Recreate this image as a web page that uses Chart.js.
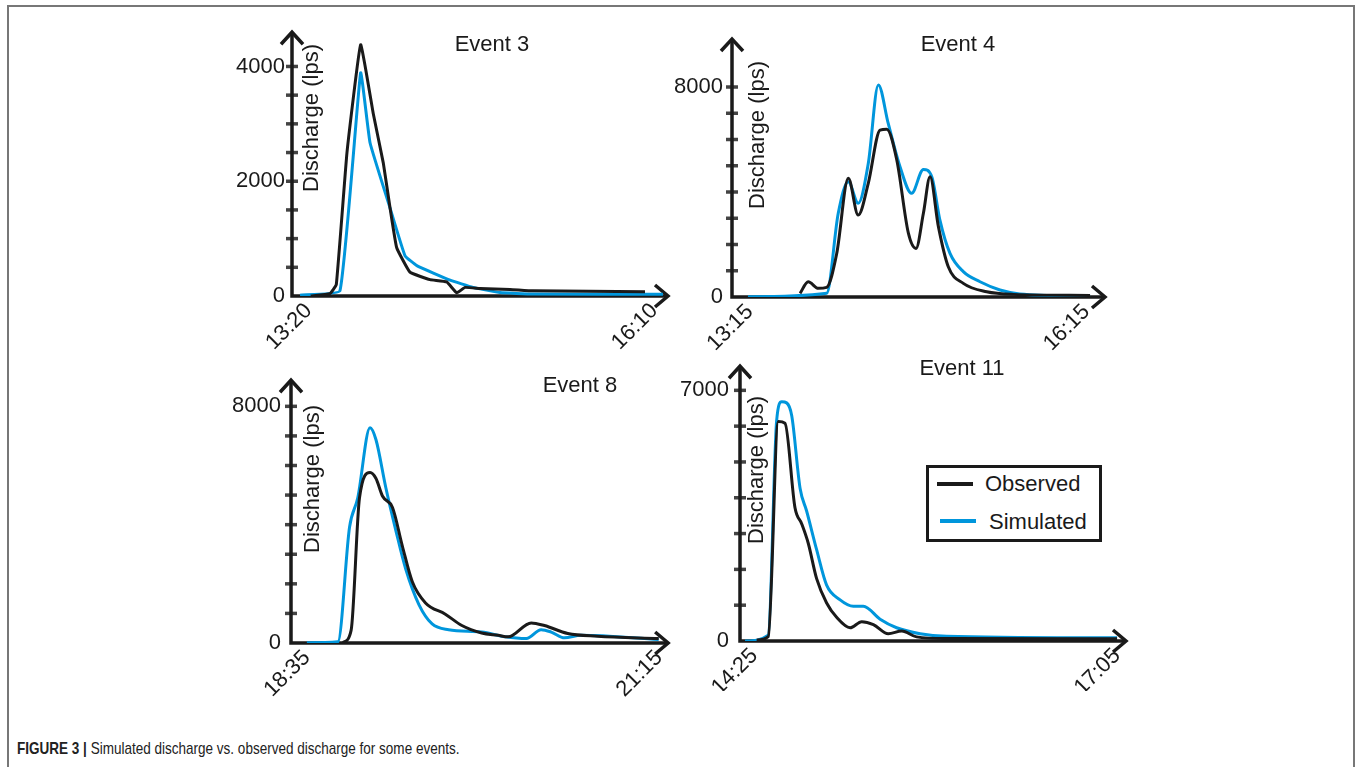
<!DOCTYPE html>
<html>
<head>
<meta charset="utf-8">
<script src="https://cdn.jsdelivr.net/npm/chart.js@4.4.0/dist/chart.umd.min.js"></script>
<style>
  body { margin: 0; background: #fff; width: 1357px; height: 767px; overflow: hidden; position: relative;
         font-family: "Liberation Sans", Arial, sans-serif; color: #1a1a1a; }
  .frame { position: absolute; left: 7px; top: 5px; width: 1348px; height: 800px;
           border: 2px solid #777; border-bottom: none; box-sizing: border-box; }
  canvas { position: absolute; }
  .legend { position: absolute; left: 926px; top: 465px; width: 176px; height: 77px;
            border: 3px solid #1a1a1a; box-sizing: border-box; background: #fff; }
  .legend .ln { position: absolute; height: 4px; width: 36px; }
  .legend .tx { position: absolute; font-size: 22px; line-height: 22px; }
  .caption { position: absolute; left: 17px; top: 740px; font-size: 17px; line-height: 17px;
             white-space: nowrap; color: #222; transform: scaleX(0.795); transform-origin: 0 0; }
</style>
</head>
<body>
<div class="frame"></div>
<canvas id="ev3" width="480" height="350" style="left:200px;top:10px"></canvas>
<canvas id="ev4" width="480" height="350" style="left:640px;top:10px"></canvas>
<canvas id="ev8" width="480" height="370" style="left:200px;top:355px"></canvas>
<canvas id="ev11" width="500" height="385" style="left:640px;top:340px"></canvas>

<div class="legend">
  <div class="ln" style="left:8px;top:14px;background:#1a1a1a"></div>
  <div class="tx" style="left:56px;top:5px">Observed</div>
  <div class="ln" style="left:11px;top:51px;background:#0096dc"></div>
  <div class="tx" style="left:60px;top:43px">Simulated</div>
</div>

<div class="caption"><b>FIGURE 3 |</b> Simulated discharge vs. observed discharge for some events.</div>

<script>
// times are minutes after the start of each event, discharge in lps

// Event 3
var ev3Labels = ["13:20", "16:10"];
var ev3TickT = [4, 166];
var ev3YLabels = [0, 2000, 4000];
var ev3ObsT = [5, 14, 17, 22, 28.4, 34.3, 39, 42.2, 45.3, 51.5, 60.9, 68.7, 73.4, 77.3, 84.3, 98.4, 109, 161.6];
var ev3ObsQ = [0, 40, 200, 2500, 4380, 3180, 2320, 1530, 840, 415, 285, 245, 55, 150, 130, 115, 90, 75];
var ev3SimT = [0, 18.7, 28.4, 32.8, 42.2, 49.2, 54.7, 70.3, 81, 93.7, 109, 170];
var ev3SimQ = [15, 90, 3890, 2670, 1530, 700, 530, 275, 150, 60, 35, 30];

// Event 4
var ev4Labels = ["13:15", "16:15"];
var ev4TickT = [1, 178];
var ev4YLabels = [0, 8000];
var ev4ObsT = [27.4, 31.7, 37, 41.4, 46.7, 52.8, 58, 63.3, 69.5, 73, 78.3, 84.4, 88.4, 92.3, 95.8, 100.2, 105.4, 113.3, 125.6, 139.6, 180];
var ev4ObsQ = [140, 580, 330, 370, 1660, 4520, 3120, 4330, 6360, 6390, 5220, 2430, 1850, 3190, 4580, 2680, 1150, 520, 200, 100, 60];
var ev4SimT = [0, 41.4, 47.5, 52.8, 58, 63.3, 68.6, 73.8, 80, 86.1, 92.3, 96.7, 101, 106.3, 113.3, 122.1, 132.6, 143, 180];
var ev4SimQ = [10, 140, 3190, 4390, 3570, 5090, 8080, 6610, 4960, 3950, 4860, 4580, 2930, 1660, 965, 580, 265, 115, 30];

// Event 8
var ev8Labels = ["18:35", "21:15"];
var ev8TickT = [0, 160];
var ev8YLabels = [0, 8000];
var ev8ObsT = [16.4, 20.1, 23.9, 28.7, 31.4, 34.4, 38.9, 43.4, 47.9, 53.9, 62.9, 70.4, 79.4, 86.9, 91.4, 101.9, 107.9, 118.5, 132, 159.8];
var ev8ObsQ = [10, 425, 4900, 5760, 5560, 4960, 4580, 3270, 2070, 1355, 975, 590, 340, 260, 210, 680, 590, 320, 230, 150];
var ev8SimT = [0, 14.1, 19.4, 23.1, 28.7, 31.4, 35.9, 40.4, 44.9, 50.9, 56.9, 64.4, 79.4, 90, 99.7, 106.4, 111, 117, 124.5, 159.8];
var ev8SimQ = [10, 40, 3920, 4900, 7280, 6870, 5240, 3810, 2500, 1300, 645, 450, 370, 210, 150, 450, 370, 175, 260, 120];

// Event 11
var ev11Labels = ["14:25", "17:05"];
var ev11TickT = [4, 160];
var ev11YLabels = [0, 7000];
var ev11ObsT = [5, 10, 14.3, 17.2, 21.5, 24.4, 27.2, 30.8, 35.1, 39.4, 45.2, 50.2, 55.2, 61.6, 67.4, 73.8, 86.7, 160];
var ev11ObsQ = [25, 120, 6130, 6080, 3720, 3270, 2730, 1740, 1060, 660, 370, 540, 460, 205, 280, 115, 70, 60];
var ev11SimT = [0, 10, 13.6, 15.8, 17.9, 20.1, 23.7, 26.5, 30.8, 35.1, 40.9, 46.6, 50.9, 58.1, 65.2, 75.3, 86.7, 160];
var ev11SimQ = [0, 160, 6150, 6680, 6650, 6290, 4260, 3630, 2550, 1560, 1150, 970, 970, 610, 370, 205, 135, 90];

var FONT = '"Liberation Sans", Arial, sans-serif';
var BLACK = "#1a1a1a";
var BLUE = "#0096dc";

function pts(t, q) {
  return t.map(function(v, i) { return { x: v, y: q[i] }; });
}

// axes with arrow heads, crossing tick marks, panel title and y title
var decor = {
  id: "decor",
  beforeDatasetsDraw: function(chart, args, o) {
    var ctx = chart.ctx, a = chart.chartArea, ys = chart.scales.y;
    ctx.save();
    ctx.strokeStyle = "#444";
    ctx.lineWidth = 3.5;
    ys.ticks.forEach(function(t) {
      if (t.value === 0) return;
      var py = ys.getPixelForValue(t.value);
      ctx.beginPath();
      ctx.moveTo(a.left - 6, py);
      ctx.lineTo(a.left + 6, py);
      ctx.stroke();
    });
    ctx.strokeStyle = BLACK;
    ctx.lineWidth = 3.5;
    ctx.beginPath();
    ctx.moveTo(a.left, a.top + 2);
    ctx.lineTo(a.left, a.bottom);
    ctx.lineTo(a.right - 2, a.bottom);
    ctx.stroke();
    ctx.beginPath();
    ctx.moveTo(a.left - 11, a.top + 14);
    ctx.lineTo(a.left, a.top + 2);
    ctx.lineTo(a.left + 11, a.top + 14);
    ctx.moveTo(a.right - 15, a.bottom - 11);
    ctx.lineTo(a.right - 2, a.bottom);
    ctx.lineTo(a.right - 15, a.bottom + 11);
    ctx.stroke();

    ctx.fillStyle = BLACK;
    ctx.font = "22px " + FONT;
    ctx.textAlign = "center";
    ctx.textBaseline = "middle";
    ctx.fillText(o.title, o.titleX, o.titleY);
    ctx.translate(o.yTitleX, o.yTitleY);
    ctx.rotate(-Math.PI / 2);
    ctx.fillText("Discharge (lps)", 0, 0);
    ctx.restore();
  }
};

function makeChart(id, p) {
  return new Chart(document.getElementById(id), {
    type: "line",
    data: {
      datasets: [
        { label: "Observed", data: pts(p.obsT, p.obsQ), borderColor: BLACK, borderWidth: 3,
          pointRadius: 0, tension: p.tension, cubicInterpolationMode: p.mode, fill: false },
        { label: "Simulated", data: pts(p.simT, p.simQ), borderColor: BLUE, borderWidth: 3,
          pointRadius: 0, tension: p.tension, cubicInterpolationMode: p.mode, fill: false }
      ]
    },
    options: {
      responsive: false,
      animation: false,
      devicePixelRatio: 1,
      layout: { padding: { left: 0, top: p.padTop, right: p.padRight, bottom: p.padBottom } },
      plugins: {
        legend: { display: false },
        tooltip: { enabled: false },
        decor: { title: p.title, titleX: p.titleX, titleY: p.titleY, yTitleX: p.yTitleX, yTitleY: p.yTitleY }
      },
      scales: {
        x: {
          type: "linear",
          min: p.xMin, max: p.xMax,
          grid: { display: false, drawTicks: false },
          border: { display: false },
          afterBuildTicks: function(s) {
            s.ticks = p.tickT.map(function(v) { return { value: v }; });
          },
          afterFit: function(s) { s.height = p.xH; },
          ticks: {
            autoSkip: false, minRotation: 45, maxRotation: 45, padding: 2,
            color: BLACK, font: { family: FONT, size: 22 },
            callback: function(v, i) { return p.labels[i]; }
          }
        },
        y: {
          min: 0, max: p.yMax,
          grid: { display: false, drawTicks: false },
          border: { display: false },
          afterBuildTicks: function(s) {
            var t = [];
            var top = p.yLabels[p.yLabels.length - 1];
            for (var v = 0; v <= top; v += p.step) t.push({ value: v });
            s.ticks = t;
          },
          afterFit: function(s) { s.width = p.yW; },
          ticks: {
            padding: p.yPad, color: BLACK, font: { family: FONT, size: 22 },
            callback: function(v) { return p.yLabels.indexOf(v) >= 0 ? String(v) : ""; }
          }
        }
      }
    },
    plugins: [decor]
  });
}

makeChart("ev3", {
  obsT: ev3ObsT, obsQ: ev3ObsQ, simT: ev3SimT, simQ: ev3SimQ,
  labels: ev3Labels, tickT: ev3TickT, yLabels: ev3YLabels, step: 500,
  xMin: -3.75, xMax: 173.3, yMax: 4632, tension: 0.1, mode: "default",
  yW: 92, yPad: 7, padTop: 15, padRight: 10, padBottom: 4, xH: 60,
  title: "Event 3", titleX: 292, titleY: 35, yTitleX: 112, yTitleY: 108
});

makeChart("ev4", {
  obsT: ev4ObsT, obsQ: ev4ObsQ, simT: ev4SimT, simQ: ev4SimQ,
  labels: ev4Labels, tickT: ev4TickT, yLabels: ev4YLabels, step: 1000,
  xMin: -8.4, xMax: 188.9, yMax: 9905, tension: 0.4, mode: "monotone",
  yW: 92, yPad: 9, padTop: 27, padRight: 13, padBottom: 4, xH: 59,
  title: "Event 4", titleX: 318, titleY: 35, yTitleX: 118, yTitleY: 125
});

makeChart("ev8", {
  obsT: ev8ObsT, obsQ: ev8ObsQ, simT: ev8SimT, simQ: ev8SimQ,
  labels: ev8Labels, tickT: ev8TickT, yLabels: ev8YLabels, step: 1000,
  xMin: -7.2, xMax: 165, yMax: 8951, tension: 0.4, mode: "monotone",
  yW: 91, yPad: 10, padTop: 15, padRight: 7, padBottom: 24, xH: 58,
  title: "Event 8", titleX: 380, titleY: 31, yTitleX: 113, yTitleY: 124
});

makeChart("ev11", {
  obsT: ev11ObsT, obsQ: ev11ObsQ, simT: ev11SimT, simQ: ev11SimQ,
  labels: ev11Labels, tickT: ev11TickT, yLabels: ev11YLabels, step: 1000,
  xMin: -2.15, xMax: 164.7, yMax: 7730, tension: 0.4, mode: "monotone",
  yW: 100, yPad: 11, padTop: 15, padRight: 12, padBottom: 34, xH: 50,
  title: "Event 11", titleX: 322, titleY: 29, yTitleX: 117, yTitleY: 130
});
</script>
</body>
</html>
